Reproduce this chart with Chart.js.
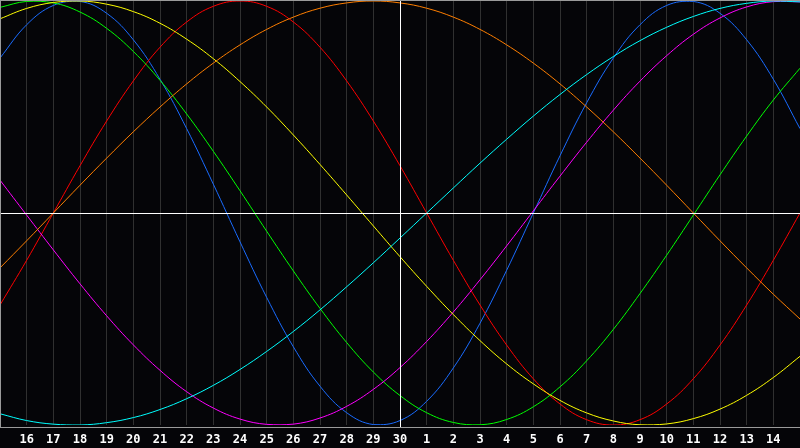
<!DOCTYPE html>
<html>
<head>
<meta charset="utf-8">
<script src="https://cdn.jsdelivr.net/npm/chart.js@4/dist/chart.umd.min.js"></script>
<style>
  html, body { margin: 0; padding: 0; background: #050508; }
  #wrap { width: 800px; height: 448px; position: relative; }
</style>
</head>
<body>
<div id="wrap"><canvas id="bio"></canvas></div>
<script>
// days shown (15th to 15th), today = index 15 (the 30th)
var days = ['15','16','17','18','19','20','21','22','23','24','25','26','27','28','29','30',
            '1','2','3','4','5','6','7','8','9','10','11','12','13','14','15'];
var todayIndex = 15;

// values in percent per day
var blue23    = [73.1,88.8,97.9,99.8,94.2,81.7,63.1,39.8,13.6,-13.6,-39.8,-63.1,-81.7,-94.2,-99.8,-97.9,-88.8,-73.1,-52.0,-27.0,0,27.0,52.0,73.1,88.8,97.9,99.8,94.2,81.7,63.1,39.8];
var red28     = [-43.4,-22.3,0,22.3,43.4,62.3,78.2,90.1,97.5,100,97.5,90.1,78.2,62.3,43.4,22.3,0,-22.3,-43.4,-62.3,-78.2,-90.1,-97.5,-100,-97.5,-90.1,-78.2,-62.3,-43.4,-22.3,0];
var green33   = [97.0,99.8,99.1,94.8,87.1,76.2,62.6,46.7,29.1,10.5,-8.6,-27.3,-45.0,-61.1,-75.0,-86.1,-94.2,-98.8,-99.9,-97.4,-91.4,-82.0,-69.7,-54.9,-38.0,-19.9,-1.0,18.0,36.3,53.3,68.3];
var magenta38 = [15.5,-1.0,-17.4,-33.4,-48.5,-62.2,-74.2,-84.3,-92.0,-97.2,-99.7,-99.6,-96.7,-91.2,-83.2,-72.9,-60.6,-46.7,-31.5,-15.5,1.0,17.4,33.4,48.5,62.2,74.2,84.3,92.0,97.2,99.7,99.6];
var yellow43  = [91.6,96.5,99.3,100.0,98.5,95.0,89.5,82.0,72.8,62.0,50.0,36.8,22.9,8.5,-6.1,-20.6,-34.6,-47.9,-60.2,-71.2,-80.6,-88.4,-94.3,-98.1,-99.9,-99.5,-97.0,-92.5,-86.0,-77.6,-67.6];
var orange48  = [-25.9,-13.1,0,13.1,25.9,38.3,50,60.9,70.7,79.3,86.6,92.4,96.6,99.1,100,99.1,96.6,92.4,86.6,79.3,70.7,60.9,50,38.3,25.9,13.1,0,-13.1,-25.9,-38.3,-50];
var cyan53    = [-94.7,-97.9,-99.6,-100.0,-98.9,-96.5,-92.7,-87.6,-81.3,-73.8,-65.3,-55.9,-45.7,-34.8,-23.5,-11.8,0,11.8,23.5,34.8,45.7,55.9,65.3,73.8,81.3,87.6,92.7,96.5,98.9,100.0,99.6];

function ds(data, color) {
  return {
    data: data,
    borderColor: color,
    borderWidth: 1,
    pointRadius: 0,
    fill: false,
    tension: 0.4
  };
}

var frame = {
  id: 'frame',
  beforeDraw: function(chart) {
    var c = chart.ctx;
    c.save();
    c.fillStyle = '#050508';
    c.fillRect(0, 0, chart.width, chart.height);
    c.restore();
  },
  afterDatasetsDraw: function(chart) {
    var c = chart.ctx, a = chart.chartArea;
    var y0 = Math.round(chart.scales.y.getPixelForValue(0)) + 0.5;
    var xt = Math.round(chart.scales.x.getPixelForValue(todayIndex)) + 0.5;
    c.save();
    c.lineWidth = 1;
    c.strokeStyle = '#ffffff';
    c.beginPath();
    c.moveTo(a.left, y0); c.lineTo(a.right, y0);
    c.moveTo(xt, 0); c.lineTo(xt, a.bottom + 2);
    c.stroke();
    // grey frame: left, top, bottom
    c.strokeStyle = '#9a9a9a';
    c.beginPath();
    c.moveTo(0.5, 0); c.lineTo(0.5, a.bottom + 3);
    c.moveTo(0, 0.5); c.lineTo(a.right, 0.5);
    c.moveTo(0, Math.round(a.bottom) + 2.5); c.lineTo(a.right, Math.round(a.bottom) + 2.5);
    c.stroke();
    c.restore();
  }
};

new Chart(document.getElementById('bio'), {
  type: 'line',
  data: {
    labels: days,
    datasets: [
      ds(cyan53, '#00ffff'),
      ds(orange48, '#ff7f00'),
      ds(yellow43, '#ffff00'),
      ds(magenta38, '#ff00ff'),
      ds(green33, '#00ff00'),
      ds(red28, '#ff0000'),
      ds(blue23, '#1a6cff')
    ]
  },
  options: {
    responsive: true,
    maintainAspectRatio: false,
    animation: false,
    layout: { padding: { top: 1, left: 0, right: 0, bottom: 0 } },
    plugins: { legend: { display: false }, tooltip: { enabled: false } },
    scales: {
      x: {
        offset: false,
        grid: { color: '#303030', lineWidth: 1, drawTicks: false },
        border: { display: false },
        ticks: {
          autoSkip: false,
          maxRotation: 0,
          padding: 8,
          color: '#ffffff',
          font: { family: 'DejaVu Sans Mono', size: 12, weight: 'bold' },
          callback: function(v, i) {
            return (i === 0 || i === days.length - 1) ? '' : days[i];
          }
        },
        afterFit: function(s) {
          s.height = 23;
          s.paddingLeft = 0;
          s.paddingRight = 0;
        }
      },
      y: {
        display: false,
        min: -100,
        max: 100
      }
    }
  },
  plugins: [frame]
});
</script>
</body>
</html>
